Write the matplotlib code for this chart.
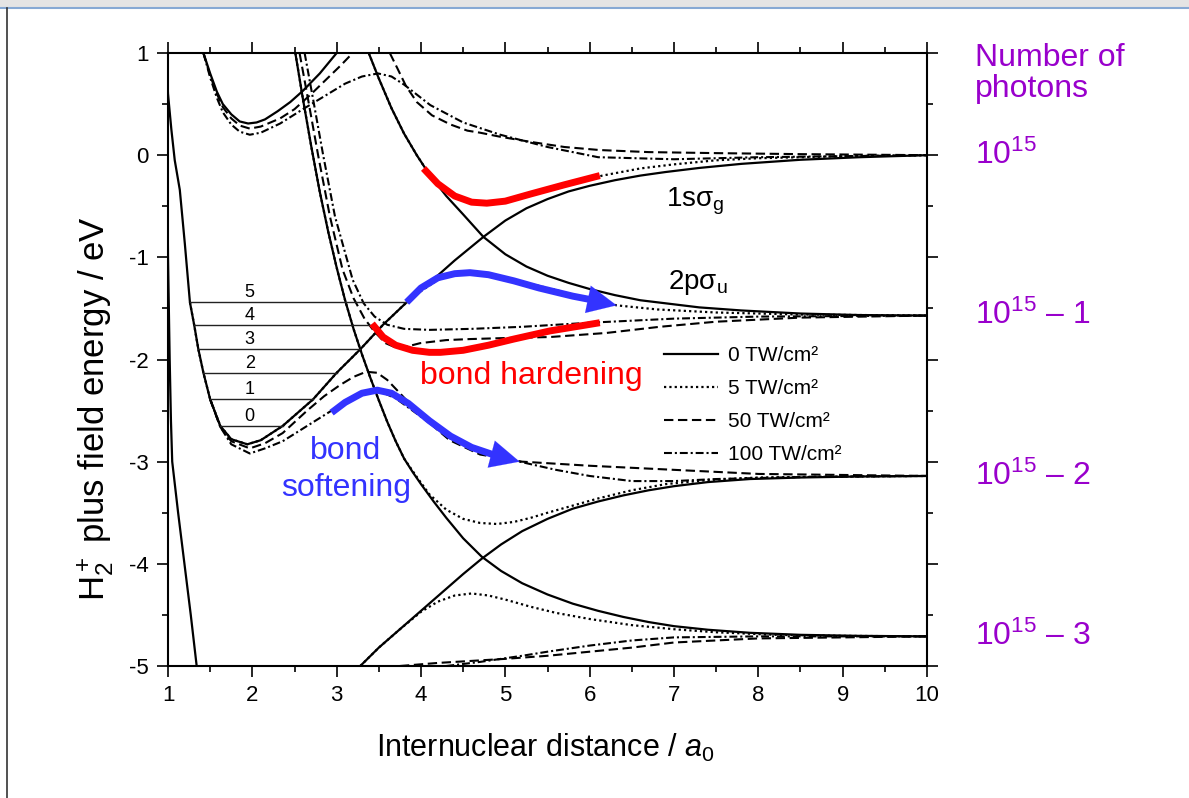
import numpy as np
import matplotlib
matplotlib.use("Agg")
import matplotlib.pyplot as plt
from matplotlib.lines import Line2D
from matplotlib.patches import Rectangle

plt.rcParams['font.family'] = ['Liberation Sans', 'DejaVu Sans']
plt.rcParams['mathtext.fontset'] = 'custom'
plt.rcParams['mathtext.rm'] = 'Liberation Sans'
plt.rcParams['mathtext.it'] = 'Liberation Sans:italic'
plt.rcParams['mathtext.bf'] = 'Liberation Sans:bold'
plt.rcParams['axes.unicode_minus'] = False

# ---- 0 TW/cm2 (diabatic) curves ----
# 1s sigma_g with two extra photons (small well at the top)
g2p_R = [1.42, 1.5, 1.58, 1.65, 1.75, 1.85, 1.95, 2.05, 2.15, 2.3, 2.45, 2.6, 2.8, 3.0]
g2p_E = [1.0, 0.8, 0.62, 0.5, 0.4, 0.33, 0.31, 0.32, 0.35, 0.43, 0.52, 0.63, 0.8, 1.0]
# 1s sigma_g, 10^15 photons
g0_R = [0.98, 1.0, 1.04, 1.08, 1.14, 1.2, 1.26, 1.31, 1.36, 1.42, 1.5, 1.62, 1.75, 1.94, 2.1,
        2.36, 2.72, 3.0, 3.28, 3.55, 3.83, 4.1, 4.4, 4.74, 5.0, 5.25, 5.5, 5.75, 6.0, 6.3, 6.6,
        6.9, 7.3, 7.8, 8.5, 9.2, 10.0]
g0_E = [1.0, 0.6, 0.25, -0.05, -0.34, -0.87, -1.44, -1.66, -1.9, -2.13, -2.39, -2.65, -2.78, -2.83, -2.79,
        -2.65, -2.39, -2.13, -1.9, -1.66, -1.44, -1.25, -1.03, -0.8, -0.64, -0.52, -0.43, -0.355, -0.3,
        -0.245, -0.2, -0.165, -0.125, -0.085, -0.045, -0.02, 0.0]
# 2p sigma_u, 10^15 - 1 photons
u1_R = [3.38, 3.5, 3.65, 3.8, 3.95, 4.1, 4.3, 4.5, 4.74, 5.0, 5.25, 5.5, 5.75, 6.0, 6.3, 6.6, 6.9,
        7.3, 7.8, 8.5, 9.2, 10.0]
u1_E = [1.0, 0.75, 0.46, 0.21, 0.0, -0.19, -0.4, -0.58, -0.8, -0.97, -1.09, -1.18, -1.25, -1.31, -1.37,
        -1.42, -1.45, -1.49, -1.52, -1.55, -1.565, -1.57]
# 2p sigma_u, 10^15 - 3 photons
u3_R = [2.51, 2.6, 2.7, 2.8, 2.9, 3.0, 3.1, 3.2, 3.3, 3.4, 3.5, 3.6, 3.7, 3.8, 3.9, 4.0, 4.15, 4.3,
        4.5, 4.72, 4.95, 5.2, 5.5, 5.8, 6.1, 6.4, 6.7, 7.0, 7.4, 7.9, 8.5, 9.2, 10.0]
u3_E = [1.0, 0.55, 0.08, -0.36, -0.75, -1.1, -1.42, -1.7, -1.95, -2.18, -2.4, -2.61, -2.8, -2.97, -3.1,
        -3.22, -3.39, -3.55, -3.75, -3.93, -4.07, -4.19, -4.3, -4.39, -4.46, -4.52, -4.57, -4.61, -4.645,
        -4.675, -4.695, -4.705, -4.71]
# 1s sigma_g, 10^15 - 2 photons (inner wall and outer branch)
g2i_R = [0.985, 0.99, 1.0, 1.02, 1.035, 1.05, 1.12, 1.195, 1.27, 1.34]
g2i_E = [1.0, 0.0, -1.0, -2.0, -2.6, -3.0, -3.5, -4.0, -4.5, -5.0]
g2o_R = [3.28, 3.5, 3.75, 4.0, 4.25, 4.5, 4.72, 4.95, 5.2, 5.5, 5.8, 6.1, 6.4, 6.7, 7.0, 7.4, 7.9,
         8.5, 9.2, 10.0]
g2o_E = [-5.0, -4.82, -4.64, -4.46, -4.28, -4.1, -3.95, -3.81, -3.68, -3.56, -3.46, -3.39, -3.33, -3.28,
         -3.24, -3.2, -3.17, -3.155, -3.145, -3.14]

# ---- 5 TW/cm2 ----
d_top_R = [3.38, 3.5, 3.65, 3.8, 3.95, 4.1, 4.25, 4.4, 4.6, 4.78, 5.0, 5.3, 5.7, 6.15, 6.6, 7.0, 7.5,
           8.0, 9.0, 10.0]
d_top_E = [1.0, 0.75, 0.46, 0.21, 0.0, -0.19, -0.32, -0.41, -0.46, -0.47, -0.45, -0.39, -0.3, -0.2, -0.13,
           -0.09, -0.05, -0.03, -0.01, 0.0]
d_mid_R = [1.26, 1.31, 1.36, 1.42, 1.5, 1.62, 1.75, 1.94, 2.1, 2.36, 2.72, 3.0, 3.28, 3.55, 3.83, 4.0, 4.2,
           4.4, 4.58, 4.8, 5.0, 5.3, 5.6, 5.95, 6.32, 6.8, 7.5, 8.5, 10.0]
d_mid_E = [-1.44, -1.66, -1.9, -2.13, -2.39, -2.65, -2.78, -2.83, -2.79, -2.65, -2.39, -2.13, -1.9, -1.66, -1.44,
           -1.33, -1.22, -1.16, -1.15, -1.17, -1.2, -1.26, -1.32, -1.4, -1.47, -1.51, -1.54, -1.56, -1.57]
d_u3_R = [2.51, 2.6, 2.7, 2.8, 2.9, 3.0, 3.1, 3.2, 3.3, 3.4, 3.5, 3.6, 3.7, 3.8, 3.95, 4.1, 4.3, 4.5,
          4.7, 4.9, 5.1, 5.3, 5.5, 5.8, 6.1, 6.5, 6.9, 7.4, 8.0, 9.0, 10.0]
d_u3_E = [1.0, 0.55, 0.08, -0.36, -0.75, -1.1, -1.42, -1.7, -1.95, -2.18, -2.4, -2.61, -2.8, -2.97, -3.15,
          -3.32, -3.47, -3.56, -3.6, -3.61, -3.59, -3.55, -3.5, -3.43, -3.36, -3.28, -3.22, -3.18, -3.155,
          -3.145, -3.14]
d_bot_R = [3.28, 3.5, 3.75, 4.0, 4.2, 4.4, 4.6, 4.8, 5.0, 5.3, 5.6, 6.0, 6.5, 7.0, 7.5, 8.2, 9.0, 10.0]
d_bot_E = [-5.0, -4.82, -4.64, -4.47, -4.37, -4.31, -4.29, -4.31, -4.35, -4.42, -4.48, -4.54, -4.6, -4.64,
           -4.67, -4.695, -4.705, -4.71]

# ---- 50 TW/cm2 ----
s_well_R = [1.42, 1.5, 1.58, 1.65, 1.75, 1.85, 1.97, 2.1, 2.33, 2.5, 2.7, 2.9, 3.05, 3.19]
s_well_E = [1.0, 0.78, 0.6, 0.47, 0.36, 0.29, 0.26, 0.28, 0.36, 0.45, 0.6, 0.76, 0.88, 1.0]
s_top_R = [3.63, 3.72, 3.82, 3.95, 4.13, 4.35, 4.55, 4.7, 4.94, 5.3, 5.7, 6.12, 6.7, 7.5, 8.5, 10.0]
s_top_E = [1.0, 0.85, 0.68, 0.52, 0.39, 0.3, 0.24, 0.22, 0.18, 0.13, 0.08, 0.05, 0.03, 0.02, 0.01, 0.0]
s_mid_R = [2.56, 2.66, 2.78, 2.92, 3.07, 3.2, 3.33, 3.45, 3.58, 3.72, 3.85, 3.99, 4.3, 4.58, 5.0, 5.53, 6.2,
           6.83, 7.5, 8.5, 10.0]
s_mid_E = [1.0, 0.55, 0.0, -0.6, -1.12, -1.4, -1.6, -1.73, -1.84, -1.89, -1.87, -1.84, -1.81, -1.8, -1.79,
           -1.78, -1.74, -1.68, -1.63, -1.59, -1.57]
s_low_R = [1.5, 1.62, 1.75, 1.97, 2.15, 2.36, 2.65, 2.85, 3.04, 3.2, 3.35, 3.48, 3.6, 3.75, 4.0, 4.34, 4.7,
           5.2, 6.0, 7.0, 8.0, 10.0]
s_low_E = [-2.39, -2.66, -2.8, -2.87, -2.82, -2.72, -2.5, -2.36, -2.25, -2.17, -2.12, -2.13, -2.2, -2.33, -2.55,
           -2.79, -2.93, -3.0, -3.04, -3.08, -3.12, -3.14]
s_bot_R = [3.75, 4.2, 4.6, 5.0, 5.5, 6.0, 6.5, 7.0, 8.0, 9.0, 10.0]
s_bot_E = [-5.0, -4.97, -4.95, -4.93, -4.9, -4.86, -4.82, -4.77, -4.73, -4.72, -4.71]

# ---- 100 TW/cm2 ----
dd_top_R = [1.42, 1.5, 1.58, 1.65, 1.75, 1.85, 1.97, 2.1, 2.33, 2.6, 2.8, 3.1, 3.3, 3.49, 3.65, 3.8, 4.11,
            4.5, 4.94, 5.5, 6.1, 7.0, 8.0, 10.0]
dd_top_E = [1.0, 0.76, 0.56, 0.42, 0.3, 0.23, 0.2, 0.22, 0.31, 0.45, 0.55, 0.7, 0.77, 0.8, 0.77, 0.69, 0.49,
            0.32, 0.2, 0.08, -0.02, -0.04, -0.02, 0.0]
dd_mid_R = [2.62, 2.72, 2.84, 2.98, 3.19, 3.32, 3.45, 3.6, 3.8, 4.1, 4.6, 5.2, 6.0, 7.0, 8.0, 10.0]
dd_mid_E = [1.0, 0.55, 0.0, -0.6, -1.22, -1.45, -1.58, -1.66, -1.7, -1.71, -1.7, -1.68, -1.64, -1.6, -1.58, -1.57]
dd_low_R = [1.5, 1.62, 1.75, 1.97, 2.15, 2.36, 2.65, 2.94, 3.2, 3.48, 3.7, 4.0, 4.34, 4.7, 5.17, 5.6, 6.0,
            6.5, 7.0, 7.5, 8.5, 10.0]
dd_low_E = [-2.39, -2.66, -2.83, -2.92, -2.87, -2.8, -2.65, -2.5, -2.37, -2.3, -2.38, -2.56, -2.77, -2.9, -3.0,
            -3.08, -3.14, -3.19, -3.19, -3.17, -3.15, -3.14]
dd_bot_R = [4.3, 4.7, 5.2, 5.5, 6.0, 6.5, 7.0, 8.0, 10.0]
dd_bot_E = [-5.0, -4.96, -4.9, -4.86, -4.8, -4.75, -4.72, -4.71, -4.71]

# ---- annotations ----
hard_top_R = [4.03, 4.2, 4.4, 4.6, 4.78, 5.0, 5.3, 5.7, 6.12]
hard_top_E = [-0.13, -0.28, -0.4, -0.46, -0.47, -0.45, -0.38, -0.29, -0.2]
hard_mid_R = [3.42, 3.55, 3.7, 3.9, 4.1, 4.23, 4.5, 4.8, 5.1, 5.53, 5.9, 6.12]
hard_mid_E = [-1.65, -1.78, -1.86, -1.91, -1.93, -1.93, -1.91, -1.86, -1.8, -1.72, -1.67, -1.64]
soft_top_R = [3.83, 4.0, 4.2, 4.4, 4.58, 4.8, 5.1, 5.4, 5.8, 6.05, 6.32]
soft_top_E = [-1.44, -1.3, -1.2, -1.16, -1.15, -1.17, -1.23, -1.3, -1.38, -1.42, -1.47]
soft_low_R = [2.94, 3.1, 3.3, 3.48, 3.65, 3.85, 4.1, 4.35, 4.6, 4.85, 4.98, 5.17]
soft_low_E = [-2.52, -2.42, -2.33, -2.3, -2.33, -2.43, -2.6, -2.75, -2.86, -2.93, -2.96, -3.0]

vib_E = [-2.65, -2.39, -2.13, -1.90, -1.66, -1.44]
vib_Rin = [1.62, 1.50, 1.42, 1.36, 1.31, 1.26]
vib_Rout = [2.36, 2.72, 3.0, 3.28, 3.42, 3.83]
vib_labels = ['0', '1', '2', '3', '4', '5']

photon_E = [0.0, -1.57, -3.14, -4.71]
photon_labels = ['10$^{15}$', '10$^{15}$ – 1', '10$^{15}$ – 2', '10$^{15}$ – 3']
legend_labels = ['0 TW/cm²', '5 TW/cm²', '50 TW/cm²', '100 TW/cm²']

RED = '#ff0000'
BLUE = '#3333ff'
PURPLE = '#9900cc'

fig = plt.figure(figsize=(11.89, 7.98), dpi=100)
ax = fig.add_axes([168/1189, 1-666/798, (927-168)/1189, (666-53)/798])

# window decoration
fig.add_artist(Rectangle((0, 1-7/798), 1, 7/798, transform=fig.transFigure, color='#e4e4e4', lw=0))
fig.add_artist(Line2D([0, 1], [1-8/798, 1-8/798], transform=fig.transFigure, color='#86a9d4', lw=1.5))
fig.add_artist(Line2D([7/1189, 7/1189], [0, 1-8/798], transform=fig.transFigure, color='#333333', lw=1.2))

sol = dict(color='black', lw=1.6, ls='-')
dot = dict(color='black', lw=1.6, ls=(0, (1, 1.4)))
das = dict(color='black', lw=1.5, ls=(0, (4.5, 2.2)))
ddt = dict(color='black', lw=1.5, ls=(0, (3.8, 1.4, 1, 1.4)))

h0, = ax.plot(g0_R, g0_E, **sol)
for R, E in [(g2p_R, g2p_E), (u1_R, u1_E), (u3_R, u3_E), (g2i_R, g2i_E), (g2o_R, g2o_E)]:
    ax.plot(R, E, **sol)

h1, = ax.plot(d_top_R, d_top_E, **dot)
for R, E in [(d_mid_R, d_mid_E), (d_u3_R, d_u3_E), (d_bot_R, d_bot_E)]:
    ax.plot(R, E, **dot)

h2, = ax.plot(s_top_R, s_top_E, **das)
for R, E in [(s_well_R, s_well_E), (s_mid_R, s_mid_E), (s_low_R, s_low_E), (s_bot_R, s_bot_E)]:
    ax.plot(R, E, **das)

h3, = ax.plot(dd_top_R, dd_top_E, **ddt)
for R, E in [(dd_mid_R, dd_mid_E), (dd_low_R, dd_low_E), (dd_bot_R, dd_bot_E)]:
    ax.plot(R, E, **ddt)

# vibrational levels
for e, r1, r2, lab in zip(vib_E, vib_Rin, vib_Rout, vib_labels):
    ax.plot([r1, r2], [e, e], color='#222222', lw=1.0)
    ax.text(1.97, e + 0.01, lab, ha='center', va='bottom', fontsize=13)

# bond hardening (red) and softening (blue) paths
for R, E in [(hard_top_R, hard_top_E), (hard_mid_R, hard_mid_E)]:
    ax.plot(R, E, color=RED, lw=5, solid_capstyle='butt', zorder=5)
for R, E in [(soft_top_R, soft_top_E), (soft_low_R, soft_low_E)]:
    ax.plot(R[:-1], E[:-1], color=BLUE, lw=5, solid_capstyle='butt', zorder=5)
    ax.annotate('', xy=(R[-1], E[-1]), xytext=(R[-3], E[-3]),
                arrowprops=dict(arrowstyle='-|>,head_length=1.05,head_width=0.5', color=BLUE,
                                lw=0.1, mutation_scale=20, shrinkA=0, shrinkB=0), zorder=6)

ax.text(5.31, -2.16, 'bond hardening', color=RED, fontsize=23, ha='center', va='center')
ax.text(3.11, -3.08, 'bond\nsoftening', color=BLUE, fontsize=23, ha='center', va='center', linespacing=1.3)
ax.text(6.9, -0.45, r'1sσ$_{\mathregular{g}}$', fontsize=20, ha='left', va='center')
ax.text(6.93, -1.25, r'2pσ$_{\mathregular{u}}$', fontsize=20, ha='left', va='center')

for e, lab in zip(photon_E, photon_labels):
    ax.text(10.57, e, lab, color=PURPLE, fontsize=23, ha='left', va='center', clip_on=False)
ax.text(10.57, 0.8, 'Number of\nphotons', color=PURPLE, fontsize=23, ha='left', va='center',
        linespacing=1.05, clip_on=False)

ax.legend([h0, h1, h2, h3], legend_labels, loc='upper left', bbox_to_anchor=(664/1189, 1-346/798),
          bbox_transform=fig.transFigure, frameon=False, fontsize=15, handlelength=2.6,
          handletextpad=0.45, labelspacing=0.67, borderpad=0, borderaxespad=0)

ax.set_xlim(1, 10)
ax.set_ylim(-5, 1)
ax.set_xticks(range(1, 11))
ax.set_xticks(np.arange(1.5, 10, 1.0), minor=True)
ax.set_yticks(range(-5, 2))
ax.set_yticks(np.arange(-4.5, 1, 1.0), minor=True)
ax.set_yticklabels([str(v) for v in range(-5, 2)])
ax.tick_params(which='both', direction='out', top=True, right=True, labelsize=16, width=1.2, pad=6)
ax.tick_params(which='major', length=8)
ax.tick_params(which='minor', length=4.5)
for s in ax.spines.values():
    s.set_linewidth(1.5)

ax.set_xlabel(r'Internuclear distance / $a_0$', fontsize=22, va='center')
ax.xaxis.set_label_coords(0.497, -0.134)
ax.set_ylabel(r'H$_2^+$ plus field energy / eV', fontsize=25, va='center')
ax.yaxis.set_label_coords(-0.095, 0.42)

fig.savefig('out.png', dpi=100)
